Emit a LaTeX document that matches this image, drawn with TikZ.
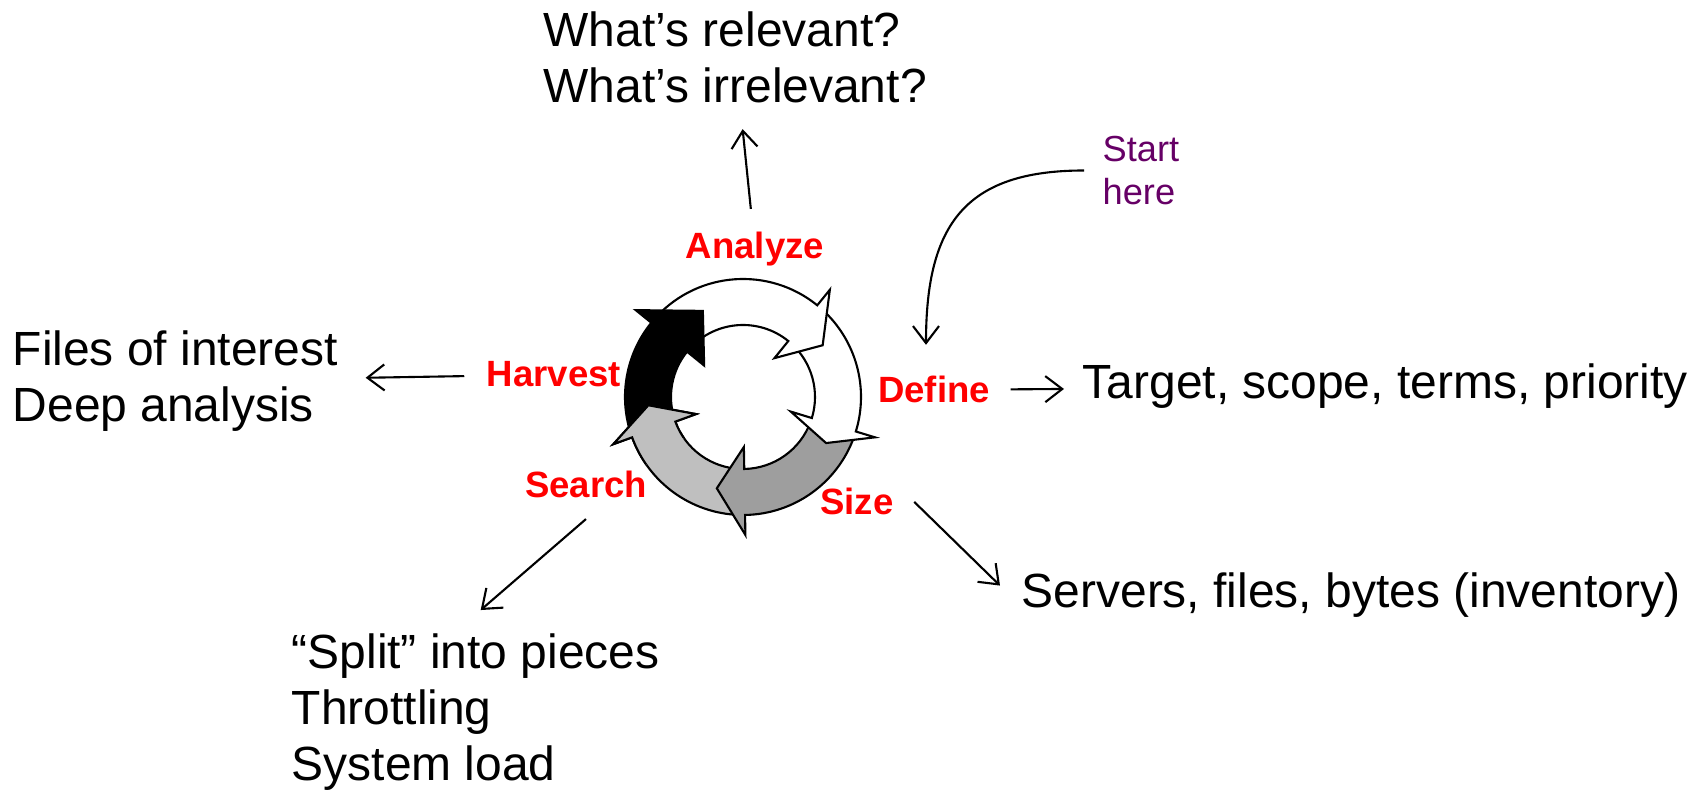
\documentclass[tikz,border=0pt]{standalone}
\usepackage{fontspec}
\setmainfont{Liberation Sans}
\usetikzlibrary{arrows.meta}
\definecolor{stagered}{RGB}{255,0,0}
\definecolor{startpurple}{RGB}{102,0,102}
\newcommand{\cyclearrow}[4]{%
  \filldraw[fill=#1] (#2:1.18) arc[start angle=#2,end angle=#3,radius=1.18]
    -- (#3:1.38) -- (#4:0.95) -- (#3:0.50) -- (#3:0.72)
    arc[start angle=#3,end angle=#2,radius=0.72] -- cycle;}
\begin{document}
\begin{tikzpicture}[>={Straight Barb[length=1.7mm,width=2.6mm]},
  every node/.style={inner sep=0pt},
  note/.style={font=\fontsize{13.65}{15.9}\selectfont,align=left},
  stage/.style={font=\fontsize{10.4}{12}\selectfont\bfseries,text=stagered},
  link/.style={->,line width=0.6pt}]
\useasboundingbox (0,0) rectangle (17.08,7.91);

\begin{scope}[shift={(7.43,3.94)},line width=0.6pt]
\cyclearrow{black!25}{-92}{-160}{-175}
\cyclearrow{black!38}{-20}{-89}{-106}
\cyclearrow{white}{48}{-17}{-29}
\cyclearrow{white}{137}{51}{33}
\cyclearrow{black}{198}{141}{115}
\begin{scope}
\clip (0,0) -- (170:1.6) arc[start angle=170,end angle=215,radius=1.6] -- cycle;
\cyclearrow{black!25}{-92}{-160}{-175}
\end{scope}
\end{scope}

\node[stage,anchor=base] (analyze) at (7.55,5.32) {Analyze};
\node[stage,anchor=base] (harvest) at (5.54,4.04) {Harvest};
\node[stage,anchor=base] (search) at (5.86,2.93) {Search};
\node[stage,anchor=base] (define) at (9.34,3.88) {Define};
\node[stage,anchor=base] (size) at (8.57,2.76) {Size};

\node[note,anchor=west] (relevant) at (5.43,7.34) {What’s relevant?\\What’s irrelevant?};
\node[note,anchor=west] (files) at (0.12,4.10) {Files of interest\\Deep analysis};
\node[note,anchor=base west] (target) at (10.82,3.92) {Target, scope, terms, priority};
\node[note,anchor=base west] (servers) at (10.21,1.83) {Servers, files, bytes (inventory)};
\node[note,anchor=west] (split) at (2.91,0.79) {“Split” into pieces\\Throttling\\System load};
\node[font=\fontsize{10.3}{12.2}\selectfont,text=startpurple,align=left,anchor=west] (start) at (11.02,6.205) {Start\\here};

\draw[link,shorten <=2.3mm,shorten >=2.6mm] (analyze) -- (relevant);
\draw[link,shorten <=2.2mm,shorten >=2.7mm] (harvest) -- (files);
\draw[link,shorten <=2.0mm,shorten >=1.8mm] (define) -- (target);
\draw[link] ([xshift=2mm]size.east) -- ([xshift=-2.1mm,yshift=1mm]servers.west);
\draw[link] ([yshift=-2mm]search.south) -- ([xshift=0.5mm,yshift=2.3mm]split.north);
\draw[link] ([xshift=-1.8mm]start.west) to[out=180,in=90,looseness=1.3] ([xshift=-0.8mm,yshift=3.1mm]define.north);
\end{tikzpicture}
\end{document}
